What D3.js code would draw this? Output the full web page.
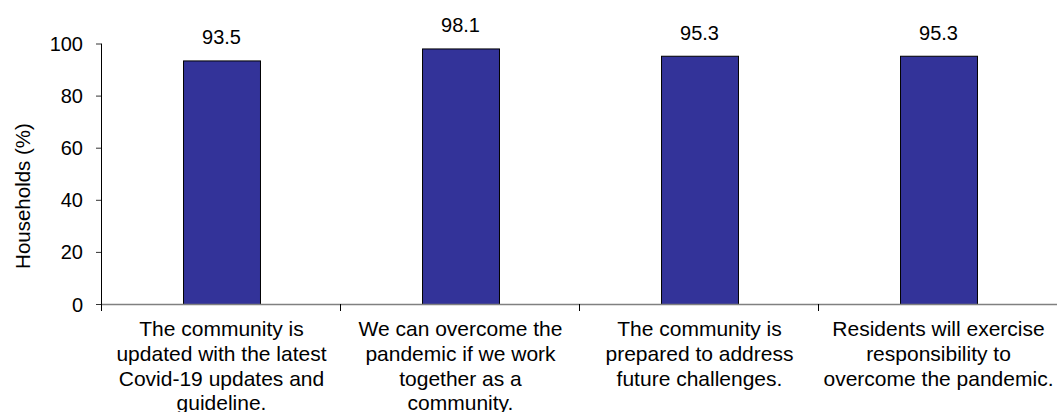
<!DOCTYPE html>
<html>
    <head>
        <meta charset="utf-8">
        <style>
            body { margin: 0; background: #fff; }
            text { font-family: Arial, "Liberation Sans", sans-serif; fill: #000; }
        </style>
    </head>
    <body>
        <svg width="1057" height="412"></svg>
        <script src="https://d3js.org/d3.v7.min.js"></script>
        <script>
            // data
            let categories = [
                ["The community is", "updated with the latest", "Covid-19 updates and", "guideline."],
                ["We can overcome the", "pandemic if we work", "together as a", "community."],
                ["The community is", "prepared to address", "future challenges."],
                ["Residents will exercise", "responsibility to", "overcome the pandemic."]
            ];
            let values = [93.5, 98.1, 95.3, 95.3];
            let yTicks = [0, 20, 40, 60, 80, 100];

            let svg = d3.select("svg");
            let plotLeft = 101, plotBottom = 304, plotTop = 43.5;

            let x = d3.scaleBand()
                .domain(d3.range(categories.length))
                .range([102, 1058])
                .padding(0);
            let y = d3.scaleLinear().domain([0, 100]).range([plotBottom, plotTop]);

            let barW = x.bandwidth() * 0.322;

            // bars
            svg.selectAll("rect.bar")
                .data(values)
                .enter()
                .append("rect")
                .attr("class", "bar")
                .attr("x", (d, i) => x(i) + x.bandwidth() / 2 - barW / 2 + 0.5)
                .attr("y", d => y(d) + 0.5)
                .attr("width", barW)
                .attr("height", d => plotBottom - y(d))
                .attr("fill", "#333399")
                .attr("stroke", "#000")
                .attr("stroke-width", 1);

            // value labels
            svg.selectAll("text.val")
                .data(values)
                .enter()
                .append("text")
                .attr("class", "val")
                .attr("x", (d, i) => x(i) + x.bandwidth() / 2)
                .attr("y", d => y(d) - 16)
                .attr("text-anchor", "middle")
                .style("font-size", "20px")
                .text(d => d.toFixed(1));

            // x axis
            let xAxis = d3.axisBottom(x).tickSize(6).tickFormat("");
            let gx = svg.append("g")
                .attr("transform", `translate(0,${plotBottom})`)
                .call(xAxis);
            gx.select(".domain").attr("stroke", "#808080").attr("stroke-width", 1.5)
                .attr("d", `M${plotLeft},0.5H1057`);
            // ticks sit on category boundaries
            gx.selectAll(".tick").remove();
            gx.selectAll("line.sep")
                .data(d3.range(1, categories.length))
                .enter()
                .append("line")
                .attr("class", "sep")
                .attr("x1", i => x(i) - 0.5)
                .attr("x2", i => x(i) - 0.5)
                .attr("y1", 0)
                .attr("y2", 7)
                .attr("stroke", "#000");

            // category labels
            let cat = svg.selectAll("text.cat")
                .data(categories)
                .enter()
                .append("text")
                .attr("class", "cat")
                .attr("text-anchor", "middle")
                .style("font-size", "21px");
            cat.selectAll("tspan")
                .data((d, i) => d.map(s => ({s: s, i: i})))
                .enter()
                .append("tspan")
                .attr("x", d => x(d.i) + x.bandwidth() / 2)
                .attr("y", (d, j) => 336 + j * 24.8)
                .text(d => d.s);

            // y axis
            let gy = svg.append("g")
                .attr("transform", `translate(${plotLeft},0)`)
                .call(d3.axisLeft(y).tickValues(yTicks).tickSize(5).tickPadding(13).tickSizeOuter(0));
            gy.select(".domain").attr("stroke", "#000").attr("d", `M0.5,${plotTop}V${plotBottom + 7}`);
            gy.selectAll(".tick line").attr("stroke", "#333");
            gy.selectAll(".tick text")
                .style("font-size", "20px")
                .attr("fill", "#000")
                .attr("dy", "0.35em");

            // y title
            svg.append("text")
                .attr("transform", "translate(30,196) rotate(-90)")
                .attr("text-anchor", "middle")
                .style("font-size", "20.5px")
                .text("Households (%)");
        </script>
    </body>
</html>
